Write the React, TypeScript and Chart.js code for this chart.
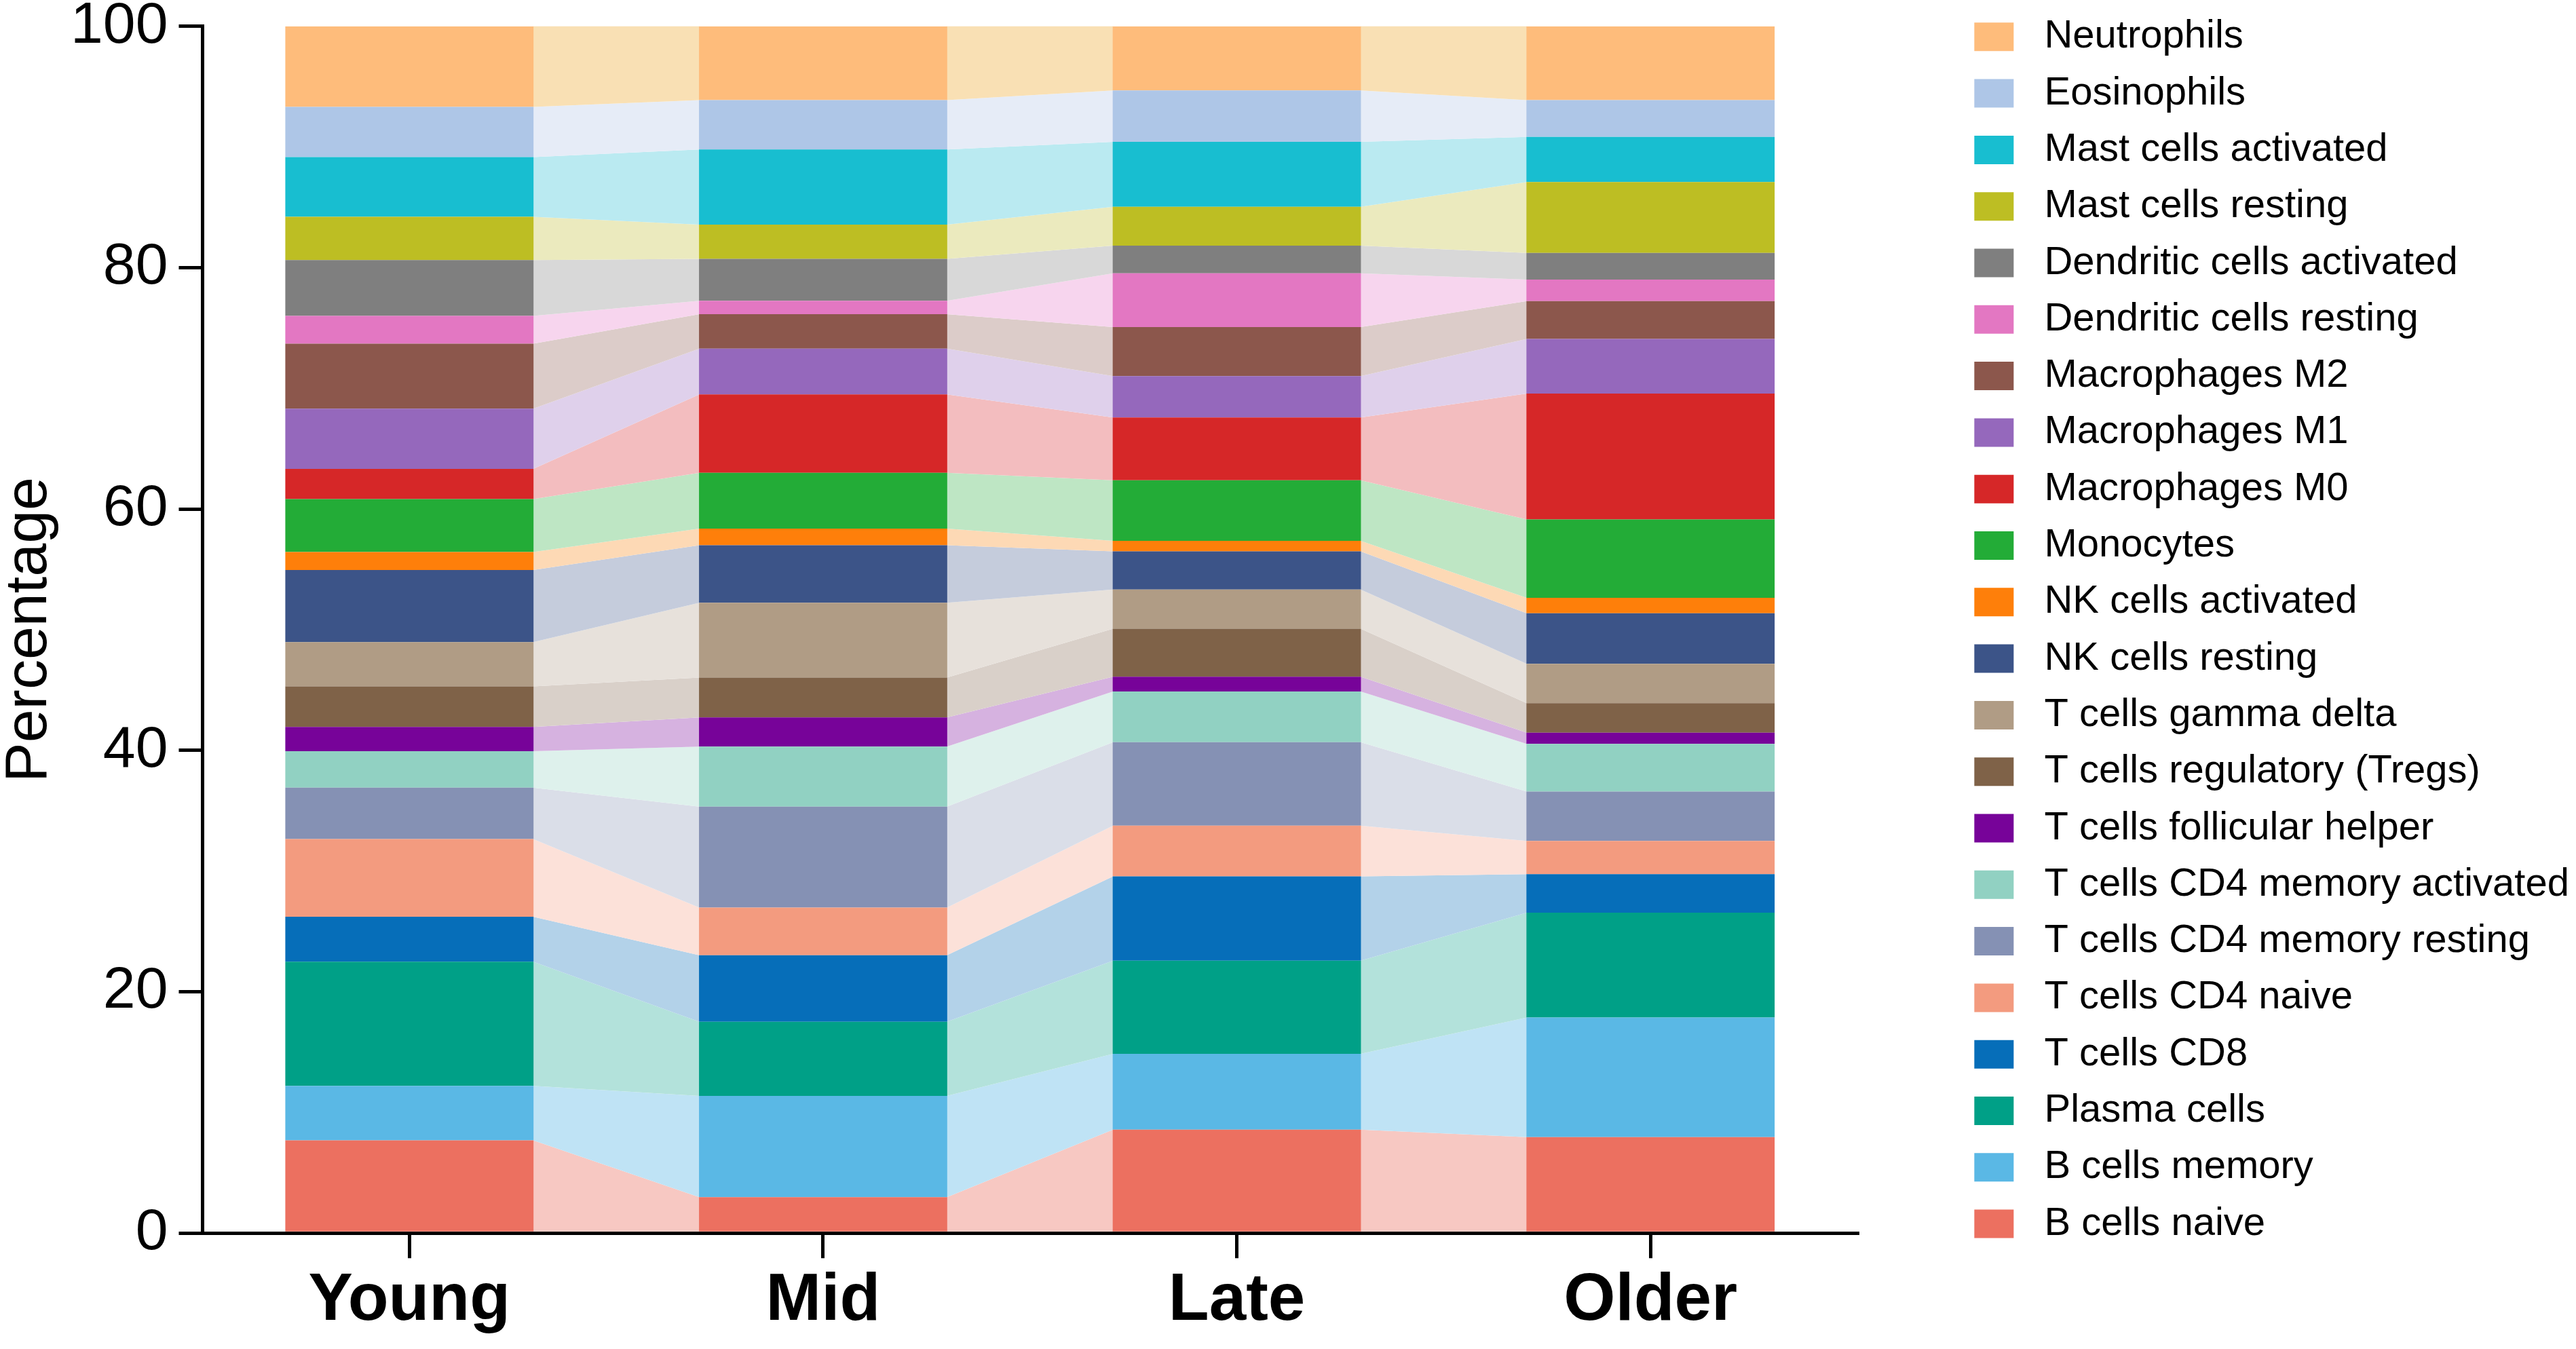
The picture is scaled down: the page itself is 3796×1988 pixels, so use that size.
import React, { useEffect, useRef } from 'react';
import { Chart, registerables } from 'chart.js';

Chart.register(...registerables);

const categories = ['Young', 'Mid', 'Late', 'Older'];
const yTicks = [0, 20, 40, 60, 80, 100];

// Series values (percentage) for Young, Mid, Late, Older
const bCellsNaive = [7.68, 2.98, 8.57, 7.96];
const bCellsMemory = [4.52, 8.39, 6.28, 9.91];
const plasmaCells = [10.29, 6.14, 7.72, 8.68];
const tCellsCD8 = [3.73, 5.52, 6.99, 3.19];
const tCellsCD4Naive = [6.43, 3.95, 4.2, 2.76];
const tCellsCD4MemoryResting = [4.26, 8.36, 6.92, 4.09];
const tCellsCD4MemoryActivated = [3.02, 4.98, 4.2, 3.95];
const tCellsFollicularHelper = [2.01, 2.41, 1.22, 0.93];
const tCellsRegulatory = [3.37, 3.3, 3.98, 2.44];
const tCellsGammaDelta = [3.66, 6.21, 3.25, 3.26];
const nkCellsResting = [5.98, 4.76, 3.17, 4.2];
const nkCellsActivated = [1.49, 1.38, 0.86, 1.27];
const monocytes = [4.39, 4.62, 5.02, 6.5];
const macrophagesM0 = [2.5, 6.5, 5.21, 10.43];
const macrophagesM1 = [4.99, 3.8, 3.43, 4.52];
const macrophagesM2 = [5.38, 2.84, 4.06, 3.14];
const dendriticCellsResting = [2.3, 1.12, 4.46, 1.78];
const dendriticCellsActivated = [4.63, 3.47, 2.28, 2.21];
const mastCellsResting = [3.59, 2.84, 3.23, 5.88];
const mastCellsActivated = [4.95, 6.23, 5.38, 3.73];
const eosinophils = [4.16, 4.09, 4.26, 3.06];
const neutrophils = [6.67, 6.11, 5.31, 6.11];

const seriesNames = [
  'B cells naive',
  'B cells memory',
  'Plasma cells',
  'T cells CD8',
  'T cells CD4 naive',
  'T cells CD4 memory resting',
  'T cells CD4 memory activated',
  'T cells follicular helper',
  'T cells regulatory (Tregs)',
  'T cells gamma delta',
  'NK cells resting',
  'NK cells activated',
  'Monocytes',
  'Macrophages M0',
  'Macrophages M1',
  'Macrophages M2',
  'Dendritic cells resting',
  'Dendritic cells activated',
  'Mast cells resting',
  'Mast cells activated',
  'Eosinophils',
  'Neutrophils',
];

const seriesValues = [
  bCellsNaive,
  bCellsMemory,
  plasmaCells,
  tCellsCD8,
  tCellsCD4Naive,
  tCellsCD4MemoryResting,
  tCellsCD4MemoryActivated,
  tCellsFollicularHelper,
  tCellsRegulatory,
  tCellsGammaDelta,
  nkCellsResting,
  nkCellsActivated,
  monocytes,
  macrophagesM0,
  macrophagesM1,
  macrophagesM2,
  dendriticCellsResting,
  dendriticCellsActivated,
  mastCellsResting,
  mastCellsActivated,
  eosinophils,
  neutrophils,
];

const barColors = [
  '#EC7060',
  '#5AB8E5',
  '#00A087',
  '#066EB9',
  '#F39B7F',
  '#8591B4',
  '#91D1C2',
  '#770399',
  '#7F6248',
  '#B09C85',
  '#3C5488',
  '#FE7F0A',
  '#23AC37',
  '#D62728',
  '#9568BC',
  '#8C574C',
  '#E377C2',
  '#7F7F7F',
  '#BDBE23',
  '#18BED0',
  '#AEC6E7',
  '#FEBC7B',
];

const flowColors = [
  '#F7C8C2',
  '#BFE3F5',
  '#B3E2DB',
  '#B3D2E9',
  '#FCE1D9',
  '#DADEE8',
  '#DEF1EC',
  '#D6B2E0',
  '#D9D0C9',
  '#E7E1DB',
  '#C5CCDC',
  '#FDD9B5',
  '#BEE6C4',
  '#F3BDBF',
  '#DFD0EB',
  '#DCCCC9',
  '#F7D5EE',
  '#D8D8D8',
  '#EBEABE',
  '#BAEAF1',
  '#E6ECF7',
  '#F9E0B4',
];

const FONT = "'Liberation Sans', Arial, Helvetica, sans-serif";
const LEGEND_GAP = 147;

// Draws the lighter connecting bands between neighbouring bars, from the bar elements' geometry
const flowPlugin = {
  id: 'flowPlugin',
  beforeDatasetsDraw(chart: any) {
    const ctx = chart.ctx;
    ctx.save();
    chart.data.datasets.forEach((_ds: any, i: number) => {
      const meta = chart.getDatasetMeta(i);
      if (!meta || meta.hidden) return;
      const bars = meta.data;
      for (let j = 0; j < bars.length - 1; j++) {
        const a = bars[j].getProps(['x', 'y', 'base', 'width'], true);
        const b = bars[j + 1].getProps(['x', 'y', 'base', 'width'], true);
        const ax = a.x + a.width / 2;
        const bx = b.x - b.width / 2;
        ctx.beginPath();
        ctx.moveTo(ax - 0.5, a.y);
        ctx.lineTo(bx + 0.5, b.y);
        ctx.lineTo(bx + 0.5, b.base);
        ctx.lineTo(ax - 0.5, a.base);
        ctx.closePath();
        ctx.fillStyle = flowColors[i];
        ctx.fill();
      }
    });
    ctx.restore();
  },
};

// Leaves a gap between the plot area and the legend
const legendGapPlugin = {
  id: 'legendGap',
  beforeLayout(chart: any) {
    const lg = chart.legend;
    if (lg && !lg.__gapPatched) {
      const origFit = lg.fit.bind(lg);
      lg.fit = function () {
        origFit();
        this.width = this.width + LEGEND_GAP;
      };
      lg.__gapPatched = true;
    }
  },
  afterLayout(chart: any) {
    const lg = chart.legend;
    if (lg) lg.left = lg.left + LEGEND_GAP;
  },
};

export default function App() {
  const canvasRef = useRef<HTMLCanvasElement | null>(null);

  useEffect(() => {
    if (!canvasRef.current) return;
    const chart = new Chart(canvasRef.current, {
      type: 'bar',
      data: {
        labels: categories,
        datasets: seriesNames.map((name, i) => ({
          label: name,
          data: seriesValues[i],
          backgroundColor: barColors[i],
          borderWidth: 0,
          barPercentage: 1,
          categoryPercentage: 0.6,
        })),
      },
      plugins: [flowPlugin, legendGapPlugin],
      options: {
        animation: false,
        responsive: true,
        maintainAspectRatio: false,
        devicePixelRatio: 1,
        layout: { padding: { left: 0, right: 0, top: 0, bottom: 6 } },
        plugins: {
          tooltip: { enabled: false },
          legend: {
            position: 'right',
            align: 'start',
            reverse: true,
            labels: {
              boxWidth: 58,
              boxHeight: 42,
              padding: 25.3,
              color: '#000',
              font: { family: FONT, size: 58 },
              generateLabels: (chart: any) =>
                Chart.defaults.plugins.legend.labels
                  .generateLabels(chart)
                  .map((item: any) => ({ ...item, text: ' ' + item.text })),
            },
          },
        },
        scales: {
          x: {
            stacked: true,
            offset: true,
            grid: {
              display: true,
              offset: false,
              drawOnChartArea: false,
              drawTicks: true,
              tickLength: 37,
              lineWidth: 5,
              color: '#000',
            },
            border: { display: true, width: 5, color: '#000' },
            ticks: {
              color: '#000',
              padding: 10,
              font: { family: FONT, size: 98, weight: 'bold', lineHeight: 1.1 },
            },
          },
          y: {
            stacked: true,
            min: 0,
            max: 100,
            afterBuildTicks: (scale: any) => {
              scale.ticks = yTicks.map((v) => ({ value: v }));
            },
            grid: {
              display: true,
              drawOnChartArea: false,
              drawTicks: true,
              tickLength: 35,
              lineWidth: 5,
              color: '#000',
            },
            border: { display: true, width: 5, color: '#000' },
            ticks: {
              color: '#000',
              padding: 16,
              font: { family: FONT, size: 86, lineHeight: 0.53 },
            },
            title: {
              display: true,
              text: 'Percentage',
              color: '#000',
              padding: { top: 0, bottom: 0 },
              font: { family: FONT, size: 88, lineHeight: 1 },
            },
          },
        },
      } as any,
    });
    return () => chart.destroy();
  }, []);

  return (
    <div style={{ position: 'absolute', left: 0, top: 0, width: 3796, height: 1988, background: '#fff' }}>
      <canvas ref={canvasRef} />
    </div>
  );
}
